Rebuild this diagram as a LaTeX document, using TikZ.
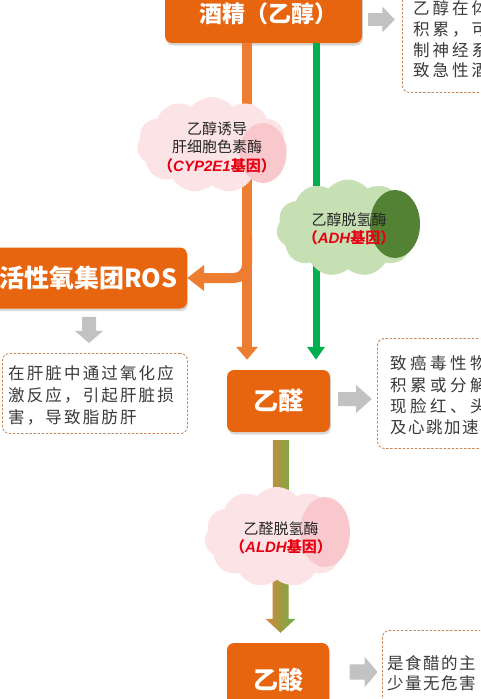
\documentclass[tikz,border=0pt]{standalone}
\usepackage{fontspec}
\setmainfont{Noto Sans CJK SC}
\newfontfamily\latf{Liberation Sans}
\usetikzlibrary{shapes.symbols,shapes.geometric,arrows.meta,shadows,calc}
\definecolor{boxor}{HTML}{E8650F}
\definecolor{lineor}{HTML}{ED7D31}
\definecolor{lineg}{HTML}{00B050}
\definecolor{dashc}{HTML}{C98A5B}
\definecolor{textg}{HTML}{3A3A3A}
\definecolor{arrg}{HTML}{C2C2C2}
\definecolor{pinkc}{HTML}{FCE4E6}
\definecolor{pinkd}{HTML}{F8C8CC}
\definecolor{greenc}{HTML}{C6E0B4}
\definecolor{greend}{HTML}{548235}
\definecolor{redt}{HTML}{E60012}
\definecolor{gradl}{HTML}{D9873A}
\definecolor{gradr}{HTML}{68AE48}
\definecolor{cloudtext}{HTML}{262626}
\tikzset{
 obox/.style={fill=boxor, rounded corners=7pt, text=white, inner sep=0pt,
   drop shadow={opacity=0.3, shadow xshift=1pt, shadow yshift=-2.5pt}},
 dbox/.style={draw=dashc, line width=0.9pt, dash pattern=on 2.5pt off 1.6pt,
   rounded corners=7pt, fill=white, inner sep=0pt, anchor=north west},
 dtext/.style={text=textg, align=left, inner sep=0pt, anchor=north west},
 oline/.style={draw=lineor, line width=10pt},
 gline/.style={draw=lineg, line width=7pt},
 cloudbg/.style={cloud, cloud puffs=11, cloud puff arc=100, aspect=1.5, inner sep=0pt},
 blob/.style={ellipse, inner sep=0pt},
 ctext/.style={text=cloudtext, align=center, inner sep=0pt, font=\fontsize{15}{18.5}\selectfont},
 garrow/.pic={\fill[arrg] (-14,-7) -- (1,-7) -- (1,-14) -- (14,0) -- (1,14) -- (1,7) -- (-14,7) -- cycle;}
}
\newcommand{\redl}[1]{{\color{redt}\bfseries （{\latf\bfseries\itshape #1}基因）}}
\begin{document}
\begin{tikzpicture}[x=1pt,y=-1pt]
\useasboundingbox (0,0) rectangle (480,699);
\clip (0,0) rectangle (480,699);

% orange boxes
\node[obox, minimum width=197pt, minimum height=58pt, font=\fontsize{23}{26}\selectfont\bfseries] (alc) at (263.5,14) {\hspace*{9pt}酒精（乙醇）};
\node[obox, minimum width=103pt, minimum height=62pt, font=\fontsize{25}{28}\selectfont\bfseries] (ald) at (278.5,401) {乙醛};
\node[obox, minimum width=102pt, minimum height=74pt, font=\fontsize{25}{28}\selectfont\bfseries] (acd) at (278,680) {乙酸};
\node[obox, minimum width=200pt, minimum height=61pt, text width=176pt, align=right, inner xsep=12pt, font=\fontsize{25}{28}\selectfont\bfseries] (ros) at (87,278) {活性氧集团ROS};

% dashed boxes
\node[dbox, minimum width=110pt, minimum height=112pt] (d1) at (402,-20) {};
\node[dtext, font=\fontsize{16.5}{20.7}\selectfont\addfontfeatures{LetterSpace=18}] (t1) at (413,0.6) {乙醇在体\\积累，可\\制神经系\\致急性酒};
\node[dbox, minimum width=185pt, minimum height=80pt] (d2) at (2,353) {};
\node[dtext, font=\fontsize{16.5}{22}\selectfont\addfontfeatures{LetterSpace=13}] (t2) at (8,365.6) {在肝脏中通过氧化应\\激反应，引起肝脏损\\害，导致脂肪肝};
\node[dbox, minimum width=120pt, minimum height=110pt] (d3) at (377,338) {};
\node[dtext, font=\fontsize{16.5}{21.3}\selectfont] (t3) at (390,355.6) {{\addfontfeatures{LetterSpace=21}致癌毒性物}\\{\addfontfeatures{LetterSpace=21}积累或分解}\\{\addfontfeatures{LetterSpace=21}现脸红、头}\\{\addfontfeatures{LetterSpace=9}及心跳加速}};
\node[dbox, minimum width=110pt, minimum height=90pt] (d4) at (382,630) {};
\node[dtext, font=\fontsize{16.5}{19.5}\selectfont\addfontfeatures{LetterSpace=9}] (t4) at (387,655.6) {是食醋的主\\少量无危害};

% grey block arrows
\pic[xscale=0.96, yscale=0.9] (g1) at (381.5,19.5) {garrow};
\pic[rotate=-90, xscale=0.93] (g2) at (89,330) {garrow};
\pic[xscale=1.2] (g3) at (355,399) {garrow};
\pic[xscale=1.0, yscale=1.1] (g4) at (363.5,672) {garrow};

% connectors
\coordinate (ox) at (247,0);
\coordinate (gx) at (316,0);
\coordinate (br) at (247,235);
\draw[oline, -{Triangle[width=21pt,length=13pt]}, shorten >=10pt] (alc.south -| ox) -- (ald.north -| ox);
\draw[oline, rounded corners=13pt, -{Triangle[width=25pt,length=17pt]}] (br) |- (ros.east);
\draw[gline, -{Triangle[width=17pt,length=13pt]}, shorten >=10pt] (alc.south -| gx) -- (ald.north -| gx);
\coordinate (gt) at ($(ald.south)+(2.5,8)$);
\coordinate (gb) at ($(acd.north)+(2.5,-10)$);
\path[left color=gradl, right color=gradr]
  ($(gt)+(-8,0)$) -- ($(gt)+(8,0)$) -- ($(gb)+(8,-14)$) -- ($(gb)+(15,-14)$) -- (gb)
  -- ($(gb)+(-15,-14)$) -- ($(gb)+(-8,-14)$) -- cycle;

% enzyme clouds
\node[cloudbg, fill=pinkc, minimum width=150pt, minimum height=96pt] (c1) at (212,145) {};
\node[blob, fill=pinkd, minimum width=47pt, minimum height=60pt] (e1) at (263,153) {};
\node[ctext] (k1) at (217,147) {乙醇诱导\\肝细胞色素酶\\\redl{CYP2E1}};

\node[cloudbg, fill=greenc, minimum width=143pt, minimum height=97pt] (c2) at (348,228) {};
\node[blob, fill=greend, minimum width=50pt, minimum height=68pt] (e2) at (395,224) {};
\node[ctext] (k2) at (349,229) {乙醇脱氢酶\\\redl{ADH}};

\node[cloudbg, fill=pinkc, minimum width=145pt, minimum height=100pt] (c3) at (277,537) {};
\node[blob, fill=pinkd, minimum width=50pt, minimum height=70pt] (e3) at (325,532) {};
\node[ctext] (k3) at (281,538) {乙醛脱氢酶\\\redl{ALDH}};
\end{tikzpicture}
\end{document}
